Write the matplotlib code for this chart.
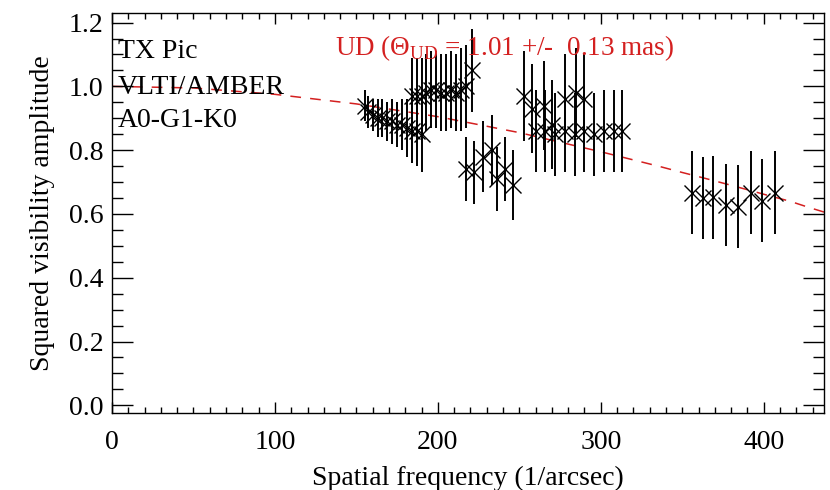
import matplotlib
matplotlib.use("Agg")
import matplotlib.pyplot as plt
from matplotlib.ticker import MultipleLocator

# ---- data ----
c1_x = [155, 157, 160, 163, 166, 169, 172, 175, 178, 181, 184, 187, 190]
c1_y = [0.94, 0.92, 0.91, 0.90, 0.90, 0.89, 0.89, 0.88, 0.88, 0.87, 0.86, 0.86, 0.85]
c1_e = [0.05, 0.05, 0.05, 0.06, 0.06, 0.06, 0.07, 0.07, 0.08, 0.09, 0.10, 0.11, 0.12]

c2_x = [184, 187, 190, 193, 196, 199, 202, 205, 208, 211, 214, 217, 221]
c2_y = [0.97, 0.97, 0.97, 0.98, 0.99, 0.99, 0.98, 0.98, 0.99, 0.98, 0.99, 1.00, 1.05]
c2_e = [0.12, 0.12, 0.12, 0.12, 0.12, 0.12, 0.12, 0.12, 0.12, 0.12, 0.13, 0.13, 0.13]

c3_x = [217, 222, 228, 233, 236, 241, 246]
c3_y = [0.74, 0.73, 0.78, 0.80, 0.71, 0.74, 0.69]
c3_e = [0.10, 0.10, 0.11, 0.11, 0.10, 0.10, 0.11]

c4_x = [253, 258, 265, 270, 278, 285, 290]
c4_y = [0.97, 0.93, 0.94, 0.88, 0.96, 0.98, 0.96]
c4_e = [0.14, 0.14, 0.14, 0.14, 0.14, 0.14, 0.14]

c5_x = [260, 266, 272, 278, 284, 290, 296, 302, 308, 313]
c5_y = [0.86, 0.86, 0.85, 0.86, 0.85, 0.86, 0.85, 0.86, 0.86, 0.86]
c5_e = [0.13, 0.13, 0.13, 0.13, 0.13, 0.13, 0.13, 0.13, 0.13, 0.13]

c6_x = [356, 363, 369, 377, 384, 392, 399, 407]
c6_y = [0.666, 0.650, 0.653, 0.628, 0.622, 0.666, 0.641, 0.666]
c6_e = [0.13, 0.13, 0.13, 0.13, 0.13, 0.13, 0.13, 0.13]

# uniform-disk model curve
ud_x = [0, 50, 100, 150, 200, 250, 300, 336, 350, 363, 377, 390, 402, 416, 428, 437]
ud_y = [1.00, 0.995, 0.975, 0.945, 0.905, 0.855, 0.795, 0.749, 0.730, 0.713, 0.694, 0.676, 0.659, 0.640, 0.620, 0.606]

xticks = [0, 100, 200, 300, 400]
yticks = [0.0, 0.2, 0.4, 0.6, 0.8, 1.0, 1.2]

# ---- figure ----
plt.rcParams['font.family'] = ['Liberation Serif', 'DejaVu Serif']
plt.rcParams['mathtext.fontset'] = 'custom'
plt.rcParams['mathtext.rm'] = 'Liberation Serif'

fig = plt.figure(figsize=(8.3, 4.9), dpi=100)
ax = fig.add_axes([112/830, 1 - 413/490, (824-112)/830, (413-13)/490])

red = '#d42020'
ax.plot(ud_x, ud_y, color=red, ls=(0, (7, 6)), lw=1.1, zorder=1)

for xs, ys, es in [(c1_x, c1_y, c1_e), (c2_x, c2_y, c2_e), (c3_x, c3_y, c3_e),
                   (c4_x, c4_y, c4_e), (c5_x, c5_y, c5_e), (c6_x, c6_y, c6_e)]:
    ax.errorbar(xs, ys, yerr=es, fmt='x', color='black', ms=11, mew=1.0,
                elinewidth=1.4, capsize=0, zorder=3)

ax.set_xlim(0, 437)
ax.set_ylim(-0.024, 1.23)
ax.set_xticks(xticks)
ax.set_yticks(yticks)
ax.set_xticklabels([str(v) for v in xticks])
ax.set_yticklabels([f"{v:.1f}" for v in yticks])
ax.xaxis.set_minor_locator(MultipleLocator(10))
ax.yaxis.set_minor_locator(MultipleLocator(0.05))
ax.tick_params(which='both', direction='in', top=True, right=True,
               labelsize=20, width=1.0, color='black')
ax.tick_params(axis='x', which='major', length=8, pad=12)
ax.tick_params(axis='x', which='minor', length=4)
ax.tick_params(axis='y', which='major', length=15, pad=6)
ax.tick_params(axis='y', which='minor', length=8)
for s in ax.spines.values():
    s.set_linewidth(1.0)

ax.set_xlabel('Spatial frequency (1/arcsec)', fontsize=20, labelpad=8)
ax.set_ylabel('Squared visibility amplitude', fontsize=20, labelpad=10)

ax.text(3.5, 1.108, 'TX Pic', fontsize=20, va='center', ha='left')
ax.text(3.5, 0.995, 'VLTI/AMBER', fontsize=20, va='center', ha='left')
ax.text(3.5, 0.892, 'A0-G1-K0', fontsize=20, va='center', ha='left')
ax.text(137, 1.12, r'UD ($\Theta_{\rm UD}$ = 1.01 +/-  0.13 mas)', fontsize=19.5,
        va='center', ha='left', color=red)

fig.savefig('out.png', dpi=100)
